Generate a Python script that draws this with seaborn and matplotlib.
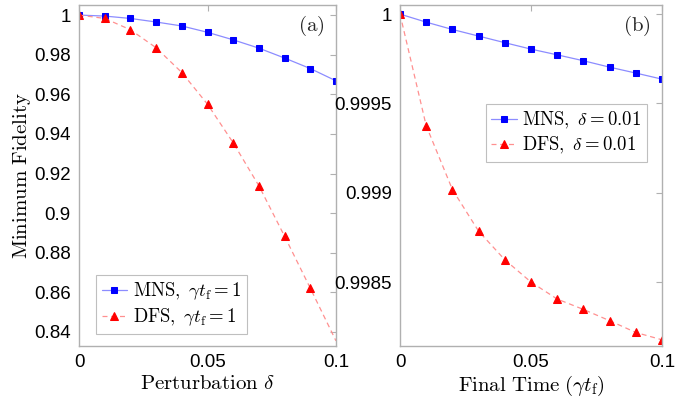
import numpy as np
import matplotlib
matplotlib.use("Agg")
import matplotlib.pyplot as plt
import seaborn as sns
from matplotlib.ticker import FuncFormatter

sns.set_style("white")
plt.rcParams['font.family'] = ['Liberation Sans', 'DejaVu Sans']
plt.rcParams['mathtext.fontset'] = 'cm'

# panel (a): fidelity vs perturbation delta, gamma t_f = 1
delta = [0.0, 0.01, 0.02, 0.03, 0.04, 0.05, 0.06, 0.07, 0.08, 0.09, 0.1]
mns_a = [1.0, 0.9995, 0.9983, 0.9965, 0.9945, 0.9913, 0.9875, 0.9833, 0.9783, 0.9730, 0.9668]
dfs_a = [1.0, 0.9983, 0.9926, 0.9835, 0.9710, 0.9550, 0.9355, 0.9138, 0.8883, 0.8621, 0.8355]

# panel (b): fidelity vs final time, delta = 0.01
tf = [0.0, 0.01, 0.02, 0.03, 0.04, 0.05, 0.06, 0.07, 0.08, 0.09, 0.1]
mns_b = [1.0, 0.999955, 0.999914, 0.999877, 0.999840, 0.999804,
         0.999772, 0.999739, 0.999703, 0.999670, 0.999636]
dfs_b = [1.0, 0.999375, 0.999018, 0.998785, 0.998625, 0.998500,
         0.998405, 0.998347, 0.998284, 0.998218, 0.998177]

blue, blue_light = '#0000ff', '#8c8cff'
red, red_light = '#ff0000', '#ff9090'
spine_col = '#b0b0b0'

fig = plt.figure(figsize=(6.86, 3.98), dpi=100)
ax1 = fig.add_axes([0.1152, 0.131, 0.3746, 0.856])
ax2 = fig.add_axes([0.5831, 0.131, 0.3819, 0.856])

def style_series(ax, light, solid):
    ln = ax.lines[-1]
    ln.set_color(light)
    ln.set_markerfacecolor(solid)
    ln.set_markeredgecolor(solid)

sns.lineplot(x=delta, y=mns_a, ax=ax1, marker='s', markersize=4.5, lw=0.9,
             label=r'$\mathrm{MNS},\ \gamma t_{\mathrm{f}}=1$')
style_series(ax1, blue_light, blue)
sns.lineplot(x=delta, y=dfs_a, ax=ax1, marker='^', markersize=5.5, lw=0.9,
             linestyle=(0, (4, 3)), markevery=list(range(10)),
             label=r'$\mathrm{DFS},\ \gamma t_{\mathrm{f}}=1$')
style_series(ax1, red_light, red)

sns.lineplot(x=tf, y=mns_b, ax=ax2, marker='s', markersize=4.5, lw=0.9,
             label=r'$\mathrm{MNS},\ \delta=0.01$')
style_series(ax2, blue_light, blue)
sns.lineplot(x=tf, y=dfs_b, ax=ax2, marker='^', markersize=5.5, lw=0.9,
             linestyle=(0, (4, 3)),
             label=r'$\mathrm{DFS},\ \delta=0.01$')
style_series(ax2, red_light, red)

ax1.set_xlim(0, 0.1)
ax1.set_ylim(0.833, 1.005)
ax1.set_yticks(np.arange(0.84, 1.001, 0.02))
ax2.set_xlim(0, 0.1)
ax2.set_ylim(0.998143, 1.00005)
ax2.set_yticks([0.9985, 0.999, 0.9995, 1.0])

fmt = FuncFormatter(lambda v, p: '%g' % round(v, 6))
for ax in (ax1, ax2):
    ax.set_xticks([0, 0.05, 0.1])
    ax.xaxis.set_major_formatter(fmt)
    ax.yaxis.set_major_formatter(fmt)
    ax.tick_params(direction='in', top=True, right=True, length=4, width=0.8,
                   color=spine_col, labelcolor='black', labelsize=13.5, pad=6)
    for s in ax.spines.values():
        s.set_color(spine_col)
        s.set_linewidth(1.0)
    ax.grid(False)

ax1.set_xlabel(r'$\mathrm{Perturbation}\ \delta$', fontsize=15, labelpad=2, color='black')
ax1.set_ylabel(r'$\mathrm{Minimum\ Fidelity}$', fontsize=15, labelpad=1, color='black')
ax2.set_xlabel(r'$\mathrm{Final\ Time}\ (\gamma t_{\mathrm{f}})$', fontsize=15, labelpad=2,
               color='black')

ax1.text(0.955, 0.975, r'$\mathrm{(a)}$', transform=ax1.transAxes,
         ha='right', va='top', fontsize=15)
ax2.text(0.955, 0.975, r'$\mathrm{(b)}$', transform=ax2.transAxes,
         ha='right', va='top', fontsize=15)

leg_kw = dict(fontsize=13.5, frameon=True, fancybox=False, edgecolor=spine_col,
              handlelength=1.35, borderpad=0.3, labelspacing=0.25,
              handletextpad=0.3, borderaxespad=0)
leg1 = ax1.legend(loc='lower left', bbox_to_anchor=(0.066, 0.035), **leg_kw)
leg2 = ax2.legend(loc='upper right', bbox_to_anchor=(0.943, 0.71), **leg_kw)
for lg in (leg1, leg2):
    lg.get_frame().set_linewidth(0.8)
    for t in lg.get_texts():
        t.set_color('black')

fig.savefig('out.png', dpi=100)
